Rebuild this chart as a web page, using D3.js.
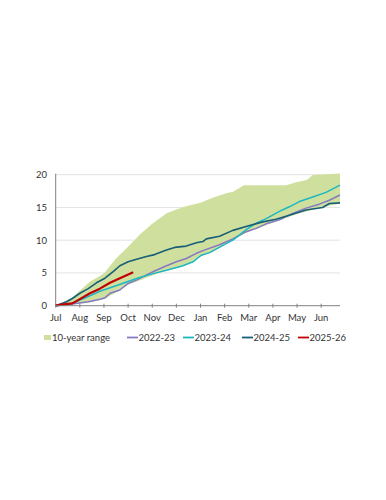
<!DOCTYPE html>
<html>
<head>
<meta charset="utf-8">
<script src="https://cdn.jsdelivr.net/npm/d3@7"></script>
<style>
	body { margin: 0; background: #fff; }
	text { font-family: Lato, "Liberation Sans", sans-serif; fill: #333; }
</style>
</head>
<body>
<svg id="chart" width="386" height="500"></svg>
<script>
// =============================
// Cumulative season chart, Jul to Jun
// =============================

// Month labels (x position is months since 1 Jul)
const months = ["Jul", "Aug", "Sep", "Oct", "Nov", "Dec", "Jan", "Feb", "Mar", "Apr", "May", "Jun"];
const yTicks = [0, 5, 10, 15, 20];

// 10-year range band
const rangeX    = [0, 0.7, 1.4, 2.0, 2.5, 3.0, 3.5, 4.0, 4.6, 5.0, 5.4, 6.0, 6.5, 7.1, 7.35, 7.8, 8.7, 9.55, 10.0, 10.4, 10.65, 11.78];
const rangeLow  = [0, 0.2, 0.5, 1.0, 2.0, 3.2, 3.9, 4.6, 5.4, 5.7, 6.2, 7.5, 8.2, 9.6, 10.0, 11.0, 12.3, 13.4, 14.0, 14.4, 14.7, 15.6];
const rangeHigh = [0, 1.3, 3.6, 4.9, 7.2, 9.0, 10.9, 12.5, 14.1, 14.7, 15.2, 15.7, 16.5, 17.2, 17.4, 18.4, 18.4, 18.4, 18.9, 19.2, 19.95, 20.2];

// Seasons
const x2022 = [0, 0.69, 1.35, 1.83, 2.04, 2.25, 2.66, 3.0, 3.35, 3.76, 4.1, 4.59, 5.0, 5.41, 5.83, 6.24, 6.79, 7.34, 7.89, 8.31, 8.72, 9.27, 9.82, 10.37, 10.92, 11.34, 11.78];
const v2022 = [0, 0.25, 0.6, 1.0, 1.2, 1.9, 2.4, 3.4, 3.9, 4.7, 5.3, 6.1, 6.7, 7.2, 8.0, 8.6, 9.3, 10.2, 11.3, 11.8, 12.5, 13.1, 14.1, 14.9, 15.5, 16.1, 16.9];

const x2023 = [0, 0.69, 1.35, 1.83, 2.38, 3.0, 3.48, 4.04, 4.59, 5.27, 5.69, 6.03, 6.38, 6.93, 7.34, 7.89, 8.31, 8.72, 9.27, 9.68, 10.1, 10.65, 11.2, 11.78];
const v2023 = [0, 0.35, 1.4, 2.2, 2.9, 3.7, 4.3, 4.9, 5.4, 6.1, 6.7, 7.7, 8.1, 9.2, 10.0, 11.6, 12.6, 13.3, 14.4, 15.1, 15.9, 16.6, 17.3, 18.4];

const x2024 = [0, 0.45, 0.69, 1.0, 1.35, 1.69, 2.04, 2.38, 2.66, 3.0, 3.35, 3.76, 4.1, 4.59, 4.93, 5.41, 5.83, 6.1, 6.24, 6.79, 7.34, 7.89, 8.58, 9.13, 9.68, 10.37, 11.06, 11.34, 11.78];
const v2024 = [0, 0.6, 1.1, 1.9, 2.6, 3.5, 4.2, 5.2, 6.1, 6.7, 7.1, 7.5, 7.8, 8.5, 8.9, 9.1, 9.6, 9.8, 10.2, 10.6, 11.5, 12.1, 12.8, 13.2, 13.8, 14.6, 15.0, 15.6, 15.7];

const x2025 = [0, 0.69, 1.0, 1.42, 1.83, 2.25, 2.66, 3.21];
const v2025 = [0.05, 0.35, 1.0, 1.9, 2.6, 3.5, 4.2, 5.1];

const series = [
	{"name": "2022-23", "x": x2022, "v": v2022, "colour": "#8579c4", "width": 1.5},
	{"name": "2023-24", "x": x2023, "v": v2023, "colour": "#1db6c1", "width": 1.5},
	{"name": "2024-25", "x": x2024, "v": v2024, "colour": "#175e78", "width": 1.6},
	{"name": "2025-26", "x": x2025, "v": v2025, "colour": "#c00000", "width": 2.2}];

const bandColour = "#cfe09e";

// Chart size
const svg = d3.select("#chart"),
	  plotLeft = 55.7,
	  plotRight = 340,
	  plotTop = 174.7,
	  plotBottom = 305.7;

const x = d3.scaleLinear().domain([0, 11.78]).range([plotLeft, plotRight]);
const y = d3.scaleLinear().domain([0, 20]).range([plotBottom, plotTop]);

// Gridlines
svg.append("g")
	.selectAll("line")
	.data(yTicks.filter(d => d > 0))
	.enter()
	.append("line")
	.attr("x1", plotLeft)
	.attr("x2", plotRight)
	.attr("y1", d => y(d))
	.attr("y2", d => y(d))
	.attr("stroke", "#e3e3e3")
	.attr("stroke-width", 1);

// Range band
const band = rangeX.map((m, i) => ({m: m, lo: rangeLow[i], hi: rangeHigh[i]}));
svg.append("path")
	.datum(band)
	.attr("fill", bandColour)
	.attr("d", d3.area().x(d => x(d.m)).y0(d => y(d.lo)).y1(d => y(d.hi)));

// Season lines
series.forEach(s => {
	const pts = s.x.map((m, i) => [m, s.v[i]]);
	svg.append("path")
		.datum(pts)
		.attr("fill", "none")
		.attr("stroke", s.colour)
		.attr("stroke-width", s.width)
		.attr("stroke-linejoin", "round")
		.attr("d", d3.line().x(d => x(d[0])).y(d => y(d[1])));
});

// Axes
svg.append("line")
	.attr("x1", plotLeft).attr("x2", plotLeft)
	.attr("y1", y(20) - 1).attr("y2", plotBottom)
	.attr("stroke", "#808080");

svg.append("line")
	.attr("x1", plotLeft).attr("x2", plotRight)
	.attr("y1", plotBottom).attr("y2", plotBottom)
	.attr("stroke", "#808080");

svg.append("g")
	.selectAll("line")
	.data(months)
	.enter()
	.append("line")
	.attr("x1", (d, i) => x(i))
	.attr("x2", (d, i) => x(i))
	.attr("y1", plotBottom - 2)
	.attr("y2", plotBottom + 2)
	.attr("stroke", "#808080");

svg.append("g")
	.selectAll("text")
	.data(months)
	.enter()
	.append("text")
	.attr("x", (d, i) => x(i))
	.attr("y", 321)
	.style("text-anchor", "middle")
	.style("font-size", "9.5px")
	.text(d => d);

svg.append("g")
	.selectAll("text")
	.data(yTicks)
	.enter()
	.append("text")
	.attr("x", 47)
	.attr("y", d => y(d) + 3.5)
	.style("text-anchor", "end")
	.style("font-size", "9.5px")
	.text(d => d);

// Legend
const legend = svg.append("g").attr("transform", "translate(0,337.5)");

legend.append("rect")
	.attr("x", 44).attr("y", -2.5)
	.attr("width", 7).attr("height", 5)
	.attr("fill", bandColour);
legend.append("text")
	.attr("x", 52).attr("y", 3.3)
	.style("font-size", "9.5px")
	.text("10-year range");

const legendX = [127, 183, 242, 298];
series.forEach((s, i) => {
	legend.append("line")
		.attr("x1", legendX[i]).attr("x2", legendX[i] + 11)
		.attr("y1", 0).attr("y2", 0)
		.attr("stroke", s.colour)
		.attr("stroke-width", 1.8);
	legend.append("text")
		.attr("x", legendX[i] + 11.5).attr("y", 3.3)
		.style("font-size", "9.5px")
		.text(s.name);
});
</script>
</body>
</html>
